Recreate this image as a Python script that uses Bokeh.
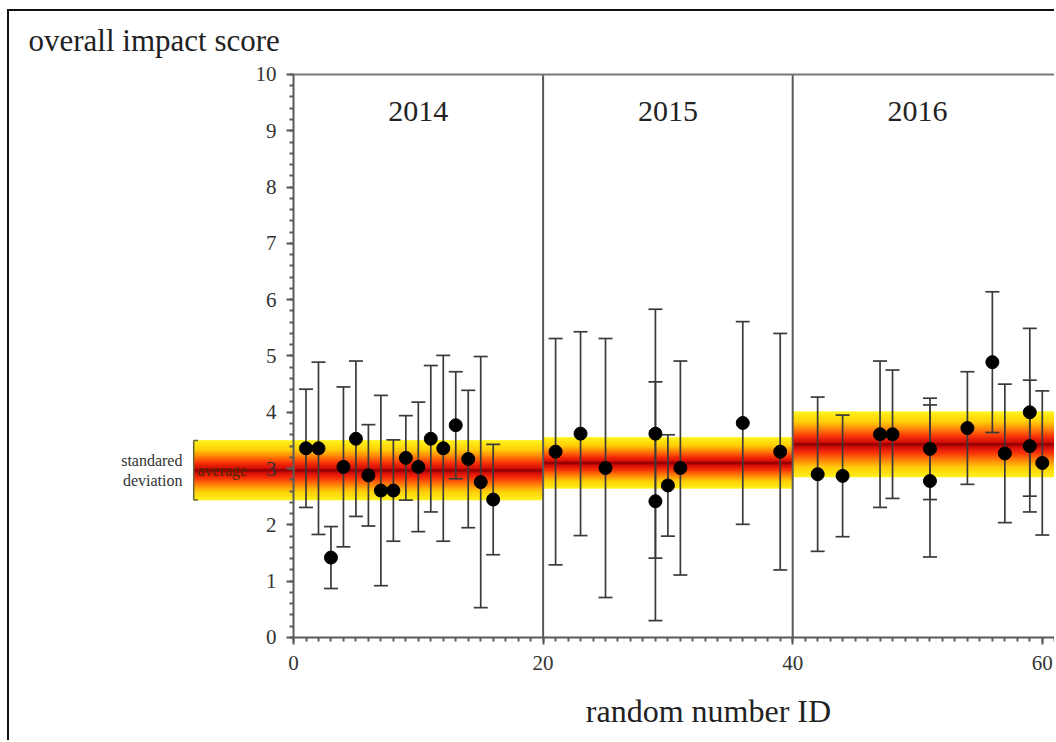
import numpy as np
from bokeh.plotting import figure
from bokeh.models import ColumnDataSource, LinearAxis, Range1d, FixedTicker
from bokeh.core.properties import value
from bokeh.embed import file_html
from bokeh.resources import INLINE

# ---------------- data ----------------
ids_2014 = [1, 2, 3, 4, 5, 6, 7, 8, 9, 10, 11, 12, 13, 14, 15, 16]
mean_2014 = [3.36, 3.36, 1.42, 3.03, 3.53, 2.88, 2.61, 2.61, 3.19, 3.03, 3.53, 3.36, 3.77, 3.17, 2.76, 2.45]
sd_2014 = [1.05, 1.53, 0.55, 1.42, 1.38, 0.90, 1.69, 0.90, 0.75, 1.15, 1.30, 1.65, 0.95, 1.22, 2.23, 0.98]

ids_2015 = [21, 23, 25, 29, 29, 30, 31, 36, 39]
mean_2015 = [3.30, 3.62, 3.01, 3.62, 2.42, 2.70, 3.01, 3.81, 3.30]
sd_2015 = [2.01, 1.81, 2.30, 2.21, 2.12, 0.90, 1.90, 1.80, 2.10]

ids_2016 = [42, 44, 47, 48, 51, 51, 54, 56, 57, 59, 59, 60]
mean_2016 = [2.90, 2.87, 3.61, 3.61, 3.35, 2.78, 3.72, 4.89, 3.27, 4.00, 3.40, 3.10]
sd_2016 = [1.37, 1.08, 1.30, 1.14, 0.90, 1.35, 1.00, 1.25, 1.23, 1.49, 1.17, 1.28]

years = ["2014", "2015", "2016"]
year_start = [0, 20, 40]
year_end = [20, 40, 60]
year_avg = [2.97, 3.10, 3.43]
year_sd = [0.53, 0.45, 0.58]

y_ticks = [0, 1, 2, 3, 4, 5, 6, 7, 8, 9, 10]
x_ticks = [0, 20, 40, 60]

# ---------------- layout constants ----------------
SERIF = "Liberation Serif"
FIG_W, FIG_H = 1047, 731
TOP_PANEL = 50
X_START, X_END = -22.76, 61.14
Y_START = -1.865
Y_END = 10.23
BAND_LEFT_EXT = 8.0
BAND_RIGHT_EXT = 3.0
AXIS_GRAY = "#5a5a5a"

p = figure(width=FIG_W, height=FIG_H, output_backend="svg", toolbar_location=None,
           x_range=Range1d(X_START, X_END), y_range=Range1d(Y_START, Y_END),
           min_border_left=0, min_border_right=0, min_border_top=TOP_PANEL,
           min_border_bottom=0)
p.styles = {"margin-left": "7px", "margin-top": "9px",
            "border-left": "2px solid #111", "border-top": "2px solid #111"}
p.grid.visible = False
p.outline_line_color = None
p.background_fill_color = "white"

# ---------------- gradient bands ----------------
def band_color(t):
    stops = [(0.0, (150, 0, 0)), (0.07, (210, 5, 0)), (0.25, (248, 45, 0)),
             (0.48, (255, 130, 0)), (0.70, (255, 205, 0)), (1.0, (255, 242, 20))]
    for (t0, c0), (t1, c1) in zip(stops[:-1], stops[1:]):
        if t <= t1:
            f = (t - t0) / (t1 - t0)
            c = [int(round(a + (b - a) * f)) for a, b in zip(c0, c1)]
            return "#%02x%02x%02x" % tuple(c)
    return "#%02x%02x%02x" % stops[-1][1]

band_left = [s - (BAND_LEFT_EXT if i == 0 else 0) for i, s in enumerate(year_start)]
band_right = [e + (BAND_RIGHT_EXT if i == len(year_end) - 1 else 0) for i, e in enumerate(year_end)]

N = 90
edges = np.linspace(-1, 1, N + 1)
L, R, B, T, C = [], [], [], [], []
for left, right, m, sd in zip(band_left, band_right, year_avg, year_sd):
    for k in range(N):
        lo, hi = edges[k], edges[k + 1]
        L.append(left); R.append(right)
        B.append(m + lo * sd); T.append(m + hi * sd)
        C.append(band_color(abs((lo + hi) / 2)))
p.quad(left=L, right=R, bottom=B, top=T, fill_color=C, line_color=C, line_width=0.5)

p.segment(x0=band_left, x1=band_right, y0=year_avg, y1=year_avg,
          line_color="#9a0000", line_width=2.5)

# bracket marking the standard deviation of the first year
b_top = year_avg[0] + year_sd[0]
b_bot = year_avg[0] - year_sd[0]
bx = band_left[0]
p.segment(x0=[bx, bx, bx], x1=[bx, bx + 0.35, bx + 0.35],
          y0=[b_bot, b_top, b_bot], y1=[b_top, b_top, b_bot],
          line_color="#66663a", line_width=1.5)
p.text(x=[bx - 0.9, bx - 0.9], y=[year_avg[0] + 0.17, year_avg[0] - 0.18],
       text=["standared", "deviation"], text_align="right", text_baseline="middle",
       text_font=value(SERIF), text_font_size="16px", text_color="#333333")
p.text(x=[bx + 0.3], y=[year_avg[0]], text=["average"], text_align="left",
       text_baseline="middle", text_font=value(SERIF), text_font_size="16px",
       text_color="#4a2a00")

# ---------------- year separators and labels ----------------
p.segment(x0=year_start[1:], x1=year_start[1:], y0=[y_ticks[0]] * 2, y1=[y_ticks[-1]] * 2,
          line_color=AXIS_GRAY, line_width=2)
p.text(x=[(s + e) / 2 for s, e in zip(year_start, year_end)], y=[9.35] * 3, text=years,
       text_align="center", text_baseline="middle", text_font=value(SERIF),
       text_font_size="30px", text_color="#222222")

# ---------------- points with error bars ----------------
all_ids = ids_2014 + ids_2015 + ids_2016
all_mean = mean_2014 + mean_2015 + mean_2016
all_sd = sd_2014 + sd_2015 + sd_2016
src = ColumnDataSource(dict(
    x=all_ids, y=all_mean,
    lo=[m - s for m, s in zip(all_mean, all_sd)],
    hi=[m + s for m, s in zip(all_mean, all_sd)]))
p.segment(x0="x", x1="x", y0="lo", y1="hi", source=src, line_color="#3a3a3a", line_width=1.7)
p.scatter(x="x", y="hi", source=src, marker="dash", size=14, line_color="#3a3a3a", line_width=1.7)
p.scatter(x="x", y="lo", source=src, marker="dash", size=14, line_color="#3a3a3a", line_width=1.7)
p.scatter(x="x", y="y", source=src, marker="circle", size=13, fill_color="black", line_color="black")

# ---------------- axes ----------------
def style_axis(ax, font_size):
    ax.major_tick_out = 7
    ax.major_tick_in = 0
    ax.minor_tick_out = 4
    ax.minor_tick_in = 0
    ax.axis_line_color = AXIS_GRAY
    ax.axis_line_width = 2
    ax.major_tick_line_color = AXIS_GRAY
    ax.minor_tick_line_color = AXIS_GRAY
    ax.major_tick_line_width = 2
    ax.minor_tick_line_width = 2
    ax.major_label_text_font = SERIF
    ax.major_label_text_font_size = font_size
    ax.major_label_text_color = "#333333"

yax = p.yaxis[0]
yax.fixed_location = 0
yax.bounds = (y_ticks[0], y_ticks[-1])
yax.ticker = FixedTicker(ticks=y_ticks, minor_ticks=list(np.round(np.arange(0, 10.01, 0.2), 2)))
style_axis(yax, "21px")
yax.major_label_standoff = 10

xax = p.xaxis[0]
xax.fixed_location = 0
xax.bounds = (0, 66)
xax.ticker = FixedTicker(ticks=x_ticks, minor_ticks=list(range(0, 67)))
style_axis(xax, "21px")
xax.major_label_standoff = 12

top = LinearAxis(fixed_location=y_ticks[-1], bounds=(0, 66), ticker=FixedTicker(ticks=[]),
                 major_label_text_font_size="0px", major_tick_out=0, minor_tick_out=0,
                 axis_line_color="#777777", axis_line_width=2)
p.add_layout(top, "above")

# x axis title (centred below the full axis of the original figure)
p.text(x=[33.25], y=[-1.30], text=["random number ID"], text_align="center",
       text_baseline="middle", text_font=value(SERIF), text_font_size="32px",
       text_color="#222222")

p.title.text = "overall impact score"
p.title.align = "left"
p.title.text_font = SERIF
p.title.text_font_style = "normal"
p.title.text_font_size = "31px"
p.title.text_color = "#222222"
p.title.offset = 19
p.title.standoff = 7

open("out.html", "w").write(file_html(p, INLINE))
